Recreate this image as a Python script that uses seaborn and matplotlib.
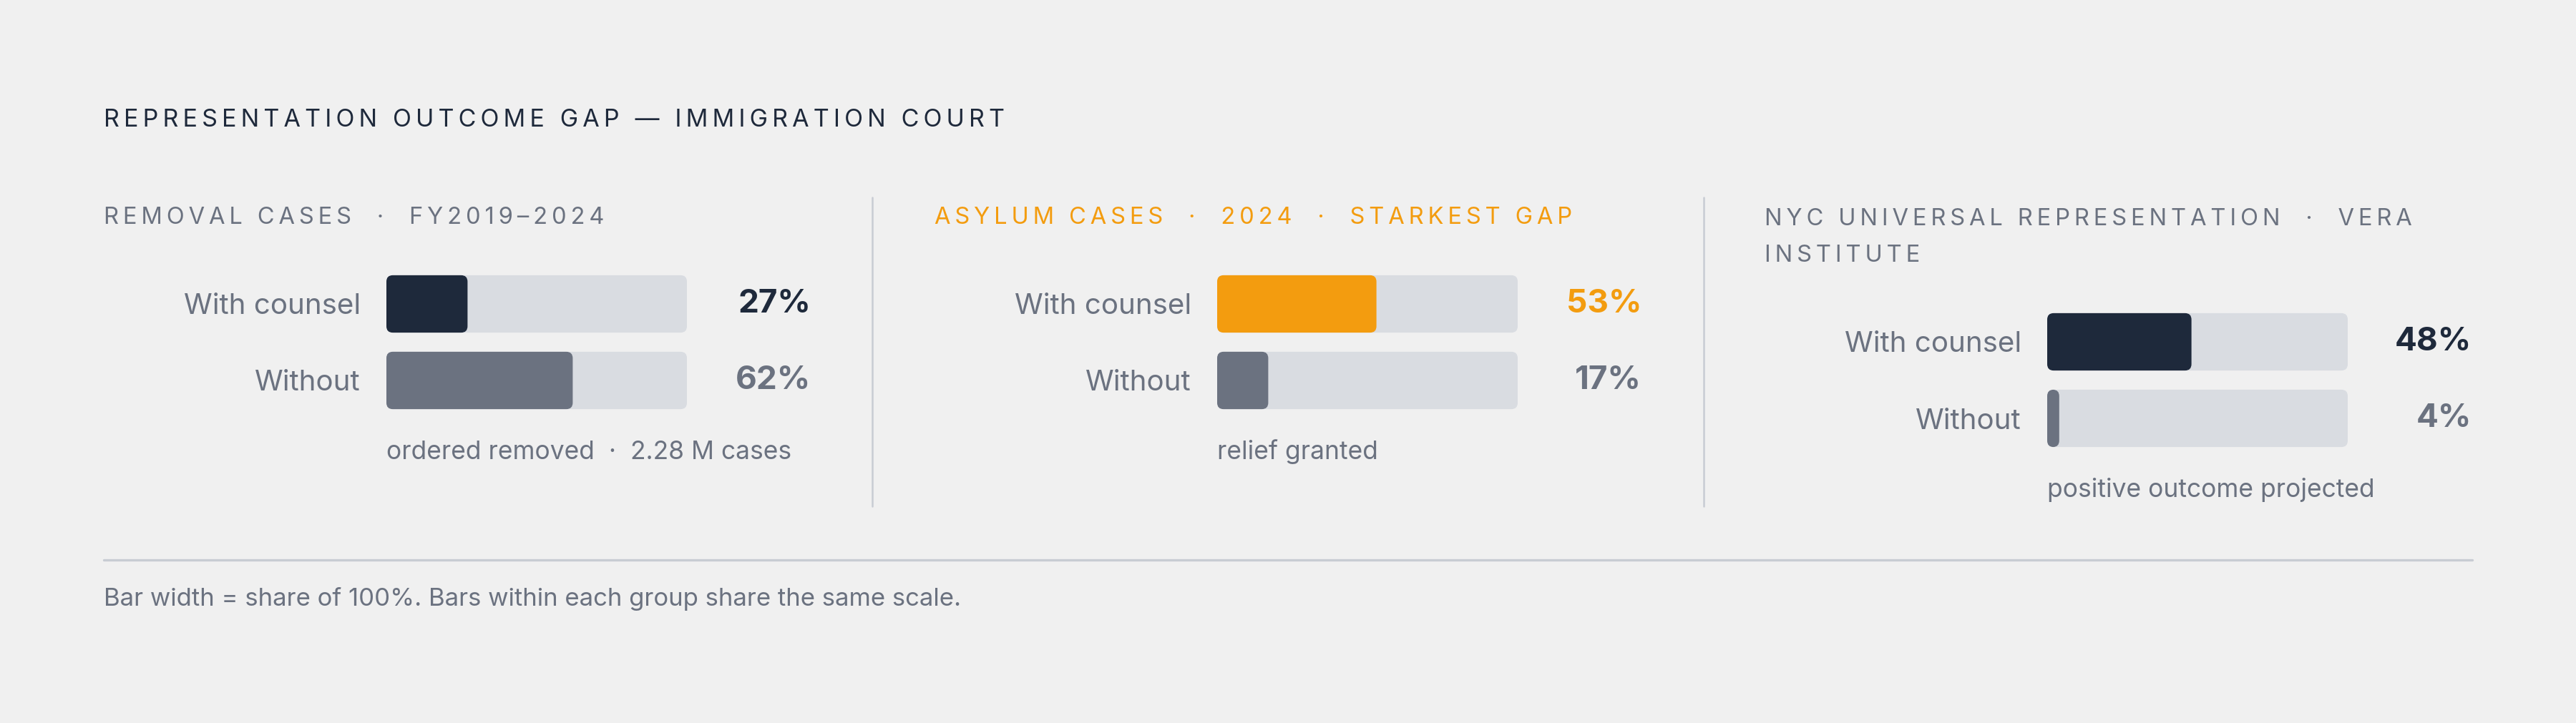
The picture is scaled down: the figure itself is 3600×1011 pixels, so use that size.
import matplotlib.pyplot as plt
import seaborn as sns
import pandas as pd
from matplotlib.patches import FancyBboxPatch
from matplotlib.lines import Line2D
from matplotlib.transforms import blended_transform_factory

sns.set_theme(style="white")
plt.rcParams['font.family'] = ['Inter', 'DejaVu Sans']

# data
panel_titles = ["REMOVAL CASES  ·  FY2019–2024",
                "ASYLUM CASES  ·  2024  ·  STARKEST GAP",
                "NYC UNIVERSAL REPRESENTATION  ·  VERA\nINSTITUTE"]
row_labels = ["With counsel", "Without"]
with_counsel = [27, 53, 48]
without = [62, 17, 4]
notes = ["ordered removed  ·  2.28 M cases", "relief granted", "positive outcome projected"]
chart_title = "REPRESENTATION OUTCOME GAP — IMMIGRATION COURT"
footnote = "Bar width = share of 100%. Bars within each group share the same scale."

BG = '#f0f0f0'
NAVY = '#1e293b'
GREY = '#6b7280'
TRACK = '#d9dce1'
ORANGE = '#f39c0f'
RULE = '#c8ccd3'
fill_colors = [NAVY, ORANGE, NAVY]
value_colors = [NAVY, ORANGE, NAVY]
title_colors = [GREY, ORANGE, GREY]

W, H = 3600, 1011
fig = plt.figure(figsize=(W / 100, H / 100), dpi=100)
fig.patch.set_facecolor(BG)


def spaced(s, gap='\u2009'):
    # fake letter spacing for the uppercase headings
    return '\n'.join(gap.join(line) for line in s.split('\n'))


def fx(px):
    return px / W


def fy(px):
    return 1 - px / H


def round_bars(ax, px_x, px_y, radius=9):
    for p in list(ax.patches):
        x, y = p.get_x(), p.get_y()
        w, h = p.get_width(), p.get_height()
        fb = FancyBboxPatch((x, y), w, h,
                            boxstyle=f"round,pad=0,rounding_size={radius / px_x}",
                            mutation_aspect=px_x / px_y,
                            fc=p.get_facecolor(), ec='none', zorder=p.get_zorder())
        p.remove()
        ax.add_patch(fb)


fig.text(fx(145), fy(168), spaced(chart_title), fontsize=24.5, color=NAVY,
         ha='left', va='center')

track_left = [540, 1701, 2861]
row0 = [425, 425, 478]
gap = 107
title_x = [145, 1306, 2466]

for i in range(3):
    top = row0[i] - gap / 2
    ax = fig.add_axes([fx(track_left[i]), fy(top + 2 * gap), 420 / W, 2 * gap / H])
    ax.set_facecolor('none')
    df = pd.DataFrame({'row': row_labels,
                       'value': [with_counsel[i], without[i]],
                       'track': [100, 100]})
    sns.barplot(data=df, x='track', y='row', color=TRACK, width=0.75,
                saturation=1, ax=ax, zorder=1)
    sns.barplot(data=df, x='value', y='row', hue='row',
                palette=[fill_colors[i], GREY], width=0.75, saturation=1,
                legend=False, ax=ax, zorder=2)
    ax.set_xlim(0, 100)
    ax.set_ylim(1.5, -0.5)
    round_bars(ax, 420 / 100, gap)
    ax.set_xticks([])
    ax.set_xlabel('')
    ax.set_ylabel('')
    ax.tick_params(axis='y', length=0, pad=26, labelsize=29, labelcolor=GREY)
    sns.despine(ax=ax, left=True, bottom=True)

    tr = blended_transform_factory(ax.transAxes, ax.transData)
    for j, v in enumerate([with_counsel[i], without[i]]):
        c = value_colors[i] if j == 0 else GREY
        ax.text(1 + 173 / 420, j, f"{v}%", transform=tr, ha='right', va='center',
                fontsize=33, fontweight='bold', color=c)
    ax.text(0, 1 + 100 / gap, notes[i], transform=tr, ha='left', va='center',
            fontsize=25.5, color=GREY)

    nlines = panel_titles[i].count('\n')
    fig.text(fx(title_x[i]), fy(313 + 53 * nlines), spaced(panel_titles[i]),
             fontsize=23.5, color=title_colors[i], ha='left', va='baseline',
             linespacing=1.82)

for x in [1219, 2381]:
    fig.add_artist(Line2D([fx(x), fx(x)], [fy(276), fy(708)], transform=fig.transFigure,
                          color=RULE, lw=1.8))

fig.add_artist(Line2D([fx(145), fx(3455)], [fy(783), fy(783)], transform=fig.transFigure,
                      color=RULE, lw=2.4))
fig.text(fx(145), fy(838), footnote, fontsize=25, color=GREY, ha='left', va='center')

fig.savefig('out.png', dpi=100, facecolor=BG)
